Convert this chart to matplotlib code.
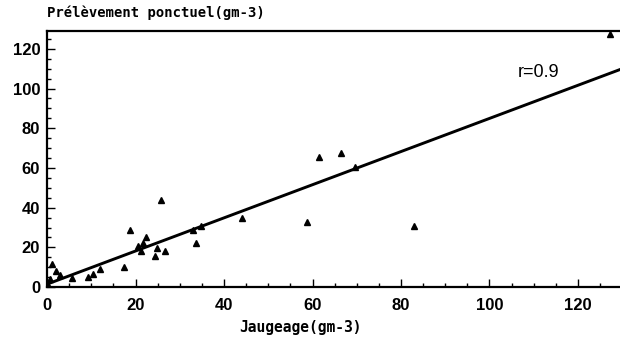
import matplotlib.pyplot as plt
from matplotlib.ticker import MultipleLocator

# jaugeage (x) vs prelevement ponctuel (y), gm-3
jaugeage = [0.2, 0.6, 1.1, 1.9, 2.9, 5.7, 9.3, 10.4, 12.0, 17.4, 18.8,
            20.6, 21.2, 21.7, 22.4, 24.4, 24.9, 25.8, 26.7, 33.0, 33.7,
            34.8, 44.0, 58.8, 61.5, 66.4, 69.6, 83.0, 127.2]
ponctuel = [1.0, 4.0, 11.5, 8.0, 6.0, 4.5, 5.0, 6.5, 9.0, 10.0, 28.7,
            20.6, 18.0, 22.0, 25.0, 15.6, 19.7, 44.0, 18.0, 28.7, 22.0,
            31.0, 35.0, 33.0, 65.5, 67.6, 60.5, 31.0, 127.5]

fit_x = [0, 130]
fit_y = [1.5, 110]
r_text = "r=0.9"

fig = plt.figure(figsize=(6.2, 3.48), dpi=100)
ax = fig.add_axes([0.076, 0.175, 0.924, 0.736])

ax.plot(fit_x, fit_y, color="black", lw=2.1, solid_capstyle="butt")
ax.plot(jaugeage, ponctuel, linestyle="none", marker="^", color="black",
        markersize=4.6)

ax.set_xlim(0, 129.5)
ax.set_ylim(0, 129)
ax.xaxis.set_major_locator(MultipleLocator(20))
ax.xaxis.set_minor_locator(MultipleLocator(5))
ax.yaxis.set_major_locator(MultipleLocator(20))
ax.yaxis.set_minor_locator(MultipleLocator(5))
ax.tick_params(which="both", direction="in", width=1, colors="black",
               labelsize=12)
ax.tick_params(which="major", length=6)
ax.tick_params(which="minor", length=3)
ax.tick_params(axis="x", pad=8)
ax.tick_params(axis="y", pad=5)
for lab in ax.get_xticklabels() + ax.get_yticklabels():
    lab.set_fontweight("bold")
    lab.set_family("Liberation Sans")

ax.spines["right"].set_visible(False)
for s in ["left", "bottom", "top"]:
    ax.spines[s].set_linewidth(1.6)

ax.text(111, 108, r_text, fontsize=13, ha="center", va="center",
        family="Liberation Sans")

fig.text(0.076, 0.962, "Prélèvement ponctuel(gm-3)", fontsize=10,
         fontweight="bold", family="DejaVu Sans Mono", ha="left",
         va="center")
fig.text(0.485, 0.06, "Jaugeage(gm-3)", fontsize=10.5, fontweight="bold",
         family="DejaVu Sans Mono", ha="center", va="center")

fig.savefig("out.png", dpi=100)
